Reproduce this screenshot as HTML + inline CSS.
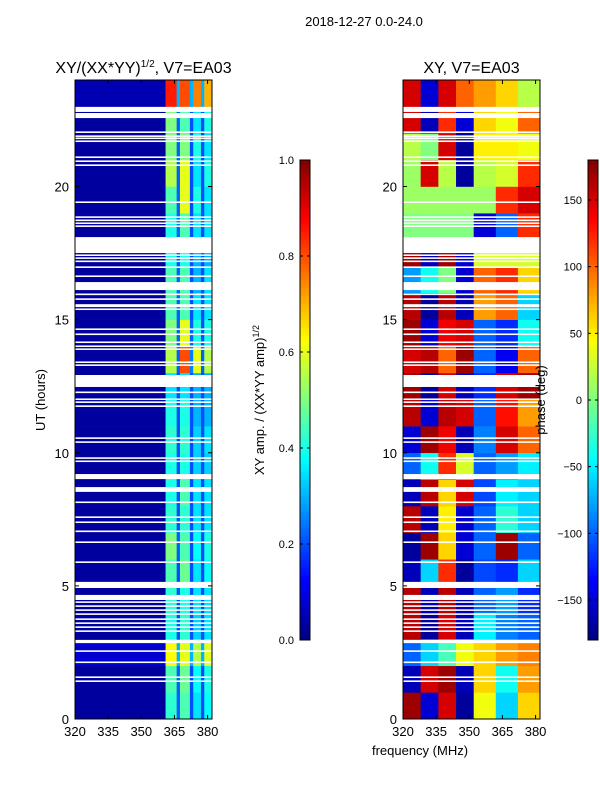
<!DOCTYPE html>
<html><head><meta charset="utf-8"><style>
html,body{margin:0;padding:0;background:#fff}
svg{display:block;font-family:"Liberation Sans",sans-serif}
</style></head><body>
<svg id="c" width="600" height="800" xmlns="http://www.w3.org/2000/svg"></svg>
<script>
// ---- data ----
const flaggedGaps = [[22.80,22.99],[22.57,22.76],[22.01,22.07],[21.86,21.92],[21.78,21.84],[21.67,21.73],
[21.07,21.13],[20.92,20.98],[20.77,20.83],[19.38,19.44],[18.82,18.88],[18.70,18.76],[18.59,18.65],[18.48,18.54],
[17.50,18.10],[17.39,17.45],[17.28,17.34],[17.16,17.22],[16.94,17.0],[16.60,16.66],[16.11,16.41],[15.92,15.98],
[15.74,15.80],[15.47,15.58],[15.36,15.42],[14.61,14.67],[14.42,14.48],[14.12,14.18],[13.97,14.03],[13.86,13.92],
[13.37,13.43],[13.26,13.32],[12.47,12.92],[12.24,12.30],[11.98,12.04],[11.87,11.93],[11.72,11.78],[10.52,10.58],
[10.37,10.43],[9.77,9.83],[9.65,9.71],[9.01,9.20],[8.53,8.71],[8.11,8.17],[7.55,7.61],[7.36,7.42],[7.02,7.08],
[6.61,6.67],[5.86,5.92],[4.96,5.15],[4.92,4.98],[4.47,4.66],[4.36,4.42],[4.21,4.27],[4.06,4.12],[3.91,3.97],
[3.72,3.78],[3.57,3.63],[3.42,3.48],[3.27,3.33],[2.85,2.97],[2.52,2.58],[2.10,2.16],[1.54,1.60],[1.39,1.45]];
const ampFreqEdges = [320,361,366,367.5,372,373.5,377,378.5,382];
// rows hour 0..23; columns: base, c1, g, c2, g, c3, g, c4
const ampRows = [
[0.03,0.42,0.22,0.45,0.2,0.35,0.2,0.38],
[0.03,0.45,0.22,0.48,0.2,0.38,0.2,0.4],
[0.08,0.62,0.3,0.6,0.3,0.55,0.3,0.6],
[0.03,0.4,0.2,0.42,0.2,0.33,0.2,0.35],
[0.03,0.42,0.2,0.4,0.2,0.35,0.2,0.35],
[0.03,0.45,0.2,0.48,0.2,0.35,0.2,0.38],
[0.03,0.5,0.22,0.45,0.2,0.38,0.2,0.4],
[0.03,0.42,0.2,0.42,0.2,0.35,0.2,0.35],
[0.03,0.4,0.2,0.45,0.2,0.35,0.2,0.35],
[0.03,0.4,0.2,0.4,0.2,0.33,0.2,0.33],
[0.03,0.42,0.2,0.42,0.2,0.33,0.2,0.35],
[0.03,0.4,0.2,0.4,0.2,0.3,0.2,0.3],
[0.03,0.35,0.2,0.35,0.2,0.3,0.2,0.3],
[0.03,0.55,0.22,0.8,0.25,0.6,0.22,0.55],
[0.03,0.5,0.22,0.6,0.22,0.4,0.2,0.4],
[0.03,0.45,0.22,0.45,0.2,0.35,0.2,0.35],
[0.03,0.45,0.22,0.45,0.2,0.3,0.2,0.35],
[0.03,0.4,0.2,0.4,0.2,0.3,0.2,0.3],
[0.03,0.4,0.22,0.45,0.2,0.35,0.2,0.35],
[0.03,0.45,0.22,0.6,0.2,0.4,0.2,0.35],
[0.03,0.55,0.22,0.6,0.2,0.35,0.2,0.4],
[0.03,0.5,0.22,0.5,0.2,0.4,0.2,0.35],
[0.03,0.5,0.22,0.45,0.2,0.35,0.2,0.4],
[0.05,0.85,0.3,0.8,0.3,0.75,0.3,0.7]];
const phaseFreqEdges = [320,328,336,344,352,362,372,382];
const phaseRows = [
[170,-150,150,-170,40,-60,60],
[-160,150,170,-160,60,-40,80],
[-100,-60,-20,40,60,80,90],
[160,-170,150,-160,-50,-90,-100],
[160,-160,160,-160,-100,-80,-120],
[-160,-60,120,-170,-110,-120,-60],
[-170,170,60,-150,-100,170,-100],
[160,-160,50,-150,-100,-30,-60],
[-160,160,60,150,-110,-50,-60],
[-100,-40,120,30,-100,-80,-50],
[-150,170,140,-160,-90,150,100],
[160,-150,160,150,-100,130,80],
[170,-170,150,-160,-120,150,170],
[150,160,100,170,-100,-140,100],
[170,-150,140,150,-100,-120,-40],
[160,-170,160,-160,80,100,-60],
[-80,-40,0,-150,100,120,60],
[170,-160,170,-150,30,30,30],
[0,0,0,0,-150,-100,120],
[10,10,10,10,10,120,150],
[10,150,20,-170,20,30,120],
[20,0,150,-170,50,50,40],
[150,-160,120,-150,60,40,100],
[150,-150,150,100,80,60,20]];
const xTicks = [320,335,350,365,380];
const yTicks = [0,5,10,15,20];
const ampTicks = [0.0,0.2,0.4,0.6,0.8,1.0];
const phaseTicks = [-150,-100,-50,0,50,100,150];

// ---- helpers ----
const NS="http://www.w3.org/2000/svg", svg=document.getElementById('c');
function mk(t,a,p){const e=document.createElementNS(NS,t);for(const k in a)e.setAttribute(k,a[k]);(p||svg).appendChild(e);return e;}
function jet(v){v=Math.max(0,Math.min(1,v));
 const r=Math.max(0,Math.min(1,1.5-Math.abs(4*v-3))),g=Math.max(0,Math.min(1,1.5-Math.abs(4*v-2))),b=Math.max(0,Math.min(1,1.5-Math.abs(4*v-1)));
 return `rgb(${Math.round(r*255)},${Math.round(g*255)},${Math.round(b*255)})`;}
const Y0=80,Y1=719;
function yS(h){return Y1-(h/24)*(Y1-Y0);}
function xS(x0,x1){return f=>x0+(f-320)/(382-320)*(x1-x0);}

function panel(x0,x1,edges,rows,norm,name,title){
 const g=mk('g',{});  
 const X=xS(x0,x1);
 rows.forEach((row,hi)=>{row.forEach((v,ci)=>{
   const r=mk('rect',{x:X(edges[ci]),y:yS(hi+1),width:X(edges[ci+1])-X(edges[ci])+0.3,height:yS(hi)-yS(hi+1)+0.3,fill:jet(norm(v))},g);
    
 });});
 flaggedGaps.forEach(gp=>{const r=mk('rect',{x:x0,y:yS(gp[1]),width:x1-x0,height:yS(gp[0])-yS(gp[1]),fill:'#fff'},g);
    });
 mk('rect',{x:x0,y:Y0,width:x1-x0,height:Y1-Y0,fill:'none',stroke:'#000','stroke-width':1},g);
 xTicks.forEach(t=>{const x=X(t);mk('line',{x1:x,x2:x,y1:Y1,y2:Y1-4,stroke:'#000'},g);mk('line',{x1:x,x2:x,y1:Y0,y2:Y0+4,stroke:'#000'},g);
   const tx=mk('text',{x:x,y:Y1+17,'font-size':13,'text-anchor':'middle'},g);tx.textContent=t;
   });
 yTicks.forEach(t=>{const y=yS(t);mk('line',{x1:x0,x2:x0+4,y1:y,y2:y,stroke:'#000'},g);mk('line',{x1:x1,x2:x1-4,y1:y,y2:y,stroke:'#000'},g);
   const tx=mk('text',{x:x0-6,y:y+5,'font-size':13,'text-anchor':'end'},g);tx.textContent=t;
   });
 const tt=mk('text',{x:(x0+x1)/2,y:73,'font-size':16,'text-anchor':'middle'},g);tt.innerHTML=title;
 
}
panel(75,212,ampFreqEdges,ampRows,v=>v,'amplitude-heatmap','XY/(XX*YY)<tspan font-size="10" dy="-6">1/2</tspan><tspan dy="6">, V7=EA03</tspan>');
panel(403,540,phaseFreqEdges,phaseRows,v=>(v+180)/360,'phase-heatmap','XY, V7=EA03');

function colorbar(x,name,ticks,norm,fmt){
 const g=mk('g',{});  
 for(let i=0;i<120;i++){mk('rect',{x:x,y:640-(i+1)*4,width:10,height:4.3,fill:jet((i+0.5)/120)},g);}
 mk('rect',{x:x,y:160,width:10,height:480,fill:'none',stroke:'#000'},g);
 ticks.forEach(t=>{const y=640-norm(t)*480;mk('line',{x1:x,x2:x+3,y1:y,y2:y,stroke:'#000'},g);mk('line',{x1:x+10,x2:x+7,y1:y,y2:y,stroke:'#000'},g);
  const tx=mk('text',{x:x-6,y:y+4,'font-size':11,'text-anchor':'end'},g);tx.textContent=fmt(t);
  });
}
colorbar(300,'amplitude-colorbar',ampTicks,v=>v,v=>v.toFixed(1));
colorbar(588,'phase-colorbar',phaseTicks,v=>(v+180)/360,v=>v<0?'\u2212'+(-v):String(v));

function txt(s,a,name){const t=mk('text',a);t.innerHTML=s;}
txt('2018-12-27 0.0-24.0',{x:364,y:26,'font-size':13,'text-anchor':'middle'},'figure-title');
txt('UT (hours)',{x:45,y:400,'font-size':13,'text-anchor':'middle',transform:'rotate(-90 45 400)'},'y-axis-title');
txt('XY amp. / (XX*YY amp)<tspan font-size="9" dy="-5">1/2</tspan>',{x:264,y:400,'font-size':13,'text-anchor':'middle',transform:'rotate(-90 264 400)'},'amplitude-colorbar-title');
txt('phase (deg)',{x:545,y:400,'font-size':13,'text-anchor':'middle',transform:'rotate(-90 545 400)'},'phase-colorbar-title');
txt('frequency (MHz)',{x:420,y:755,'font-size':13,'text-anchor':'middle'},'x-axis-title');
</script>
</body></html>
